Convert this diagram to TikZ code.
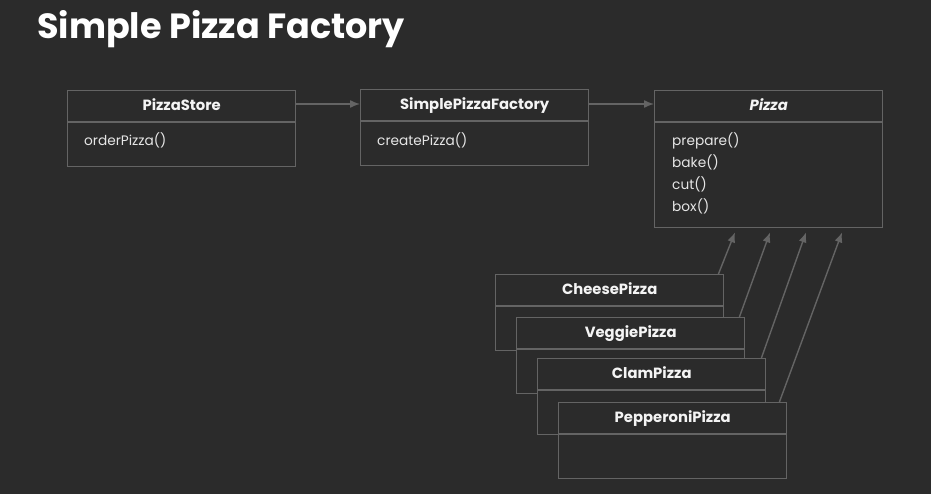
\documentclass[tikz,border=0pt]{standalone}
\usepackage{fontspec}
\setmainfont{Poppins}
\usetikzlibrary{arrows.meta}
\definecolor{bg}{HTML}{2B2B2B}
\definecolor{ln}{HTML}{646464}
\definecolor{tx}{HTML}{F4F4F4}
\definecolor{mt}{HTML}{E6E6E6}
\begin{document}
\begin{tikzpicture}[x=1pt,y=-1pt,
  cls/.style={draw=ln, line width=1.4pt, fill=bg, minimum width=228pt, minimum height=76pt, anchor=north west, inner sep=0pt},
  divider/.style={draw=ln, line width=1.4pt},
  ctitle/.style={text=tx, font=\fontsize{14.8}{17}\selectfont\bfseries, anchor=base, inner sep=0pt},
  meth/.style={text=mt, font=\fontsize{13.7}{17}\selectfont, anchor=base west, inner sep=0pt},
  conn/.style={draw=ln, line width=1.4pt, -{Latex[length=10pt,width=8pt]}}
]
\fill[bg] (0,0) rectangle (931,494);
\useasboundingbox (0,0) rectangle (931,494);

\node[text=white, font=\fontsize{35}{40}\selectfont\bfseries, anchor=base west, inner sep=0pt] (title) at (37,39) {Simple Pizza Factory};

% PizzaStore
\node[cls] (ps) at (67,90) {};
\draw[divider] ([yshift=-32pt]ps.north west) -- ([yshift=-32pt]ps.north east);
\node[ctitle] (pst) at ([yshift=-20.5pt]ps.north) {PizzaStore};
\node[meth] (psm) at ([xshift=17pt,yshift=-56pt]ps.north west) {orderPizza()};

% SimplePizzaFactory
\node[cls] (spf) at (360,89) {};
\draw[divider] ([yshift=-32pt]spf.north west) -- ([yshift=-32pt]spf.north east);
\node[ctitle] (spft) at ([yshift=-20.5pt]spf.north) {SimplePizzaFactory};
\node[meth] (spfm) at ([xshift=17pt,yshift=-57pt]spf.north west) {createPizza()};

% Pizza
\node[cls, minimum height=137pt] (pz) at (654,90) {};
\draw[divider] ([yshift=-32pt]pz.north west) -- ([yshift=-32pt]pz.north east);
\node[ctitle, font=\fontsize{14.8}{17}\selectfont\bfseries\itshape] (pzt) at ([yshift=-20.5pt]pz.north) {Pizza};
\node[meth] (m1) at ([xshift=18pt,yshift=-56pt]pz.north west) {prepare()};
\node[meth] (m2) at ([xshift=18pt,yshift=-77.7pt]pz.north west) {bake()};
\node[meth] (m3) at ([xshift=18pt,yshift=-99.4pt]pz.north west) {cut()};
\node[meth] (m4) at ([xshift=18pt,yshift=-121.1pt]pz.north west) {box()};

% Concrete pizzas
\node[cls] (cp) at (495,274) {};
\draw[divider] ([yshift=-32pt]cp.north west) -- ([yshift=-32pt]cp.north east);
\node[ctitle] (cpt) at ([yshift=-20.5pt]cp.north) {CheesePizza};

\node[cls] (vp) at (516,317) {};
\draw[divider] ([yshift=-32pt]vp.north west) -- ([yshift=-32pt]vp.north east);
\node[ctitle] (vpt) at ([yshift=-20.5pt]vp.north) {VeggiePizza};

\node[cls] (clp) at (537,358) {};
\draw[divider] ([yshift=-32pt]clp.north west) -- ([yshift=-32pt]clp.north east);
\node[ctitle] (clpt) at ([yshift=-20.5pt]clp.north) {ClamPizza};

\node[cls] (pp) at (558,402) {};
\draw[divider] ([yshift=-32pt]pp.north west) -- ([yshift=-32pt]pp.north east);
\node[ctitle] (ppt) at ([yshift=-20.5pt]pp.north) {PepperoniPizza};

% connectors
\draw[conn] ([yshift=-14pt]ps.north east) -- ([yshift=-15pt]spf.north west);
\draw[conn] ([yshift=-15pt]spf.north east) -- ([yshift=-14pt]pz.north west);

\draw[conn] ([xshift=-6pt]cp.north east) -- ([xshift=81pt,yshift=-4pt]pz.south west);
\draw[conn] ([xshift=-6pt]vp.north east) -- ([xshift=116pt,yshift=-4pt]pz.south west);
\draw[conn] ([xshift=-5pt]clp.north east) -- ([xshift=152pt,yshift=-4pt]pz.south west);
\draw[conn] ([xshift=-8pt]pp.north east) -- ([xshift=188pt,yshift=-4pt]pz.south west);
\end{tikzpicture}
\end{document}
